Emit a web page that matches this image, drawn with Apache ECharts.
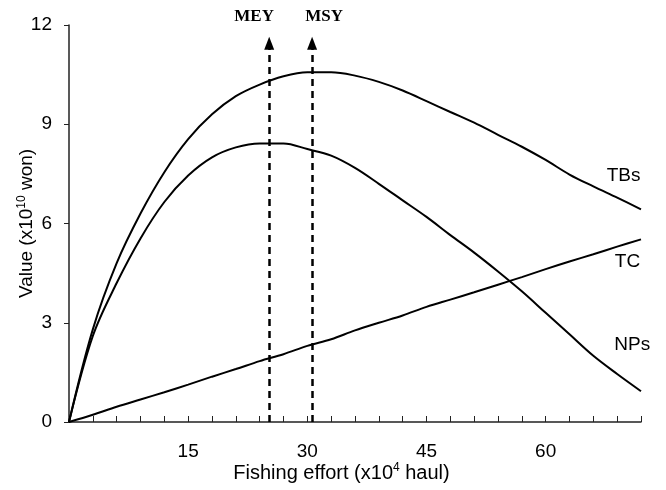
<!DOCTYPE html>
<html><head><meta charset="utf-8">
<script src="https://cdn.jsdelivr.net/npm/echarts@6/dist/echarts.min.js"></script>
<style>html,body{margin:0;padding:0;background:#fff}#c{width:666px;height:490px}</style>
</head><body><div id="c"></div>
<script>
// Fishing effort (x10^4 haul)
const effort = [0,3,6,9,12,15,18,21,24,27,30,33,36,39,42,45,48,51,54,57,60,63,66,69,72];
// Total benefits
const TBs = [0,2.8,4.8,6.3,7.55,8.55,9.3,9.85,10.2,10.45,10.57,10.57,10.47,10.28,10.02,9.7,9.37,9.05,8.68,8.32,7.92,7.48,7.12,6.78,6.43];
// Total cost
const TC = [0,0.22,0.46,0.68,0.9,1.13,1.37,1.6,1.84,2.05,2.3,2.5,2.77,3.0,3.22,3.48,3.7,3.92,4.15,4.38,4.62,4.85,5.07,5.3,5.52];
// Net profits
const NPs = [0,2.6,4.2,5.55,6.65,7.45,8.0,8.3,8.42,8.42,8.25,8.05,7.68,7.2,6.7,6.2,5.65,5.12,4.55,3.95,3.3,2.65,2.0,1.45,0.93];
// Reference effort levels
const refNames = ['MEY','MSY'];
const refEffort = [25.2, 30.6];
const refTop = 11.45;
const xLabels = [15,30,45,60];
// label anchors [x, y] in data units
const curveLabels = ['TBs','TC','NPs'];
const curveLabelPos = [[69.8,7.45],[70.3,4.85],[70.9,2.34]];
const refLabelPos = [[23.3,12.26],[32.1,12.26]];

const pairs = a => effort.map((x,i)=>[x,a[i]]);
const chart = echarts.init(document.getElementById('c'), null, {renderer:'canvas'});
const sans = 'Liberation Sans, Arial, sans-serif';
const lineStyle = {color:'#000', width:2};
const option = {
  animation:false,
  backgroundColor:'#fff',
  grid:{left:69,right:25,top:25,bottom:68,containLabel:false,outerBoundsMode:'none'},
  xAxis:{type:'value',min:0,max:72,interval:3,
    name:'Fishing effort (x10{sup|4} haul)',nameLocation:'middle',nameGap:40,nameMoveOverlap:false,
    nameTextStyle:{fontFamily:sans,fontSize:20,color:'#000',padding:[0,27,0,0],
      rich:{sup:{fontFamily:sans,fontSize:12,color:'#000',verticalAlign:'top',padding:[0,0,10,0]}}},
    axisLine:{lineStyle:{color:'#222',width:1.5}},
    axisTick:{inside:true,length:6,lineStyle:{color:'#222',width:1}},
    axisLabel:{fontFamily:sans,fontSize:19,color:'#000',margin:20,
      formatter:v=>xLabels.includes(v)?String(v):''},
    splitLine:{show:false}},
  yAxis:{type:'value',min:0,max:12,interval:3,
    name:'Value (x10{sup|10} won)',nameLocation:'middle',nameGap:31,nameMoveOverlap:false,
    nameTextStyle:{fontFamily:sans,fontSize:19,color:'#000',
      rich:{sup:{fontFamily:sans,fontSize:12,color:'#000',verticalAlign:'top',padding:[0,0,10,0]}}},
    axisLine:{show:true,lineStyle:{color:'#222',width:1.5}},
    axisTick:{show:true,length:5,lineStyle:{color:'#222',width:1}},
    axisLabel:{fontFamily:sans,fontSize:19,color:'#000',margin:17},
    splitLine:{show:false}},
  series:[
    {type:'line',name:'TBs',data:pairs(TBs),smooth:0.35,symbol:'none',lineStyle},
    {type:'line',name:'TC',data:pairs(TC),smooth:0.35,symbol:'none',lineStyle},
    {type:'line',name:'NPs',data:pairs(NPs),smooth:0.35,symbol:'none',lineStyle,
      markLine:{silent:true,symbol:['none','triangle'],symbolSize:[10,13],
        label:{show:false},
        lineStyle:{color:'#000',width:2.5,type:[7,5]},
        data:refEffort.map(x=>[{coord:[x,0]},{coord:[x,refTop]}])}}
  ]
};
chart.setOption(option);
const g = [];
curveLabels.forEach((t,i)=>{
  const p = chart.convertToPixel({gridIndex:0}, curveLabelPos[i]);
  g.push({type:'text',x:p[0],y:p[1],style:{text:t,fontFamily:sans,fontSize:19,fill:'#000',align:'center',verticalAlign:'middle'}});
});
refNames.forEach((t,i)=>{
  const p = chart.convertToPixel({gridIndex:0}, refLabelPos[i]);
  g.push({type:'text',x:p[0],y:p[1],style:{text:t,fontFamily:'Liberation Serif, Times New Roman, serif',fontWeight:'bold',fontSize:17,fill:'#000',align:'center',verticalAlign:'middle'}});
});
chart.setOption({graphic:g});
</script>
</body></html>
